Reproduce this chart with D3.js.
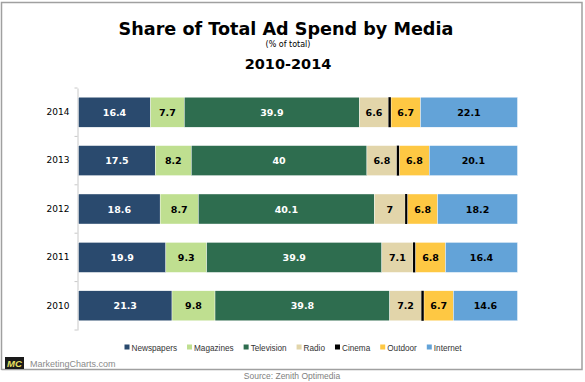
<!DOCTYPE html>
<html><head><meta charset="utf-8">
<script src="https://cdn.jsdelivr.net/npm/d3@7"></script>
<style>body{margin:0;background:#fff}svg{display:block}</style>
</head><body>
<svg id="c" width="585" height="382"></svg>
<script>
const years = ["2014","2013","2012","2011","2010"];
const media = ["Newspapers","Magazines","Television","Radio","Cinema","Outdoor","Internet"];
const newspapers = [16.4,17.5,18.6,19.9,21.3];
const magazines  = [7.7,8.2,8.7,9.3,9.8];
const television = [39.9,40,40.1,39.9,39.8];
const radio      = [6.6,6.8,7,7.1,7.2];
const cinema     = [0.6,0.6,0.6,0.6,0.6];
const outdoor    = [6.7,6.8,6.8,6.8,6.7];
const internet   = [22.1,20.1,18.2,16.4,14.6];
const colors = ["#2a4a6e","#bfdf90","#2e6d4f","#e2d5aa","#000000","#fec843","#63a3d8"];
const labelColors = ["#fff","#000","#fff","#000",null,"#000","#000"];
const seriesValues = [newspapers,magazines,television,radio,cinema,outdoor,internet];

const svg = d3.select("#c");
// frame
svg.append("path").attr("d","M1.5,370 L1.5,2.5 L582,2.5 L582,369.5 L1.5,369.5")
  .attr("fill","none").attr("stroke","#a0a0a0").attr("stroke-width",1.5);

// titles
svg.append("text").attr("x",286).attr("y",35).attr("text-anchor","middle")
  .attr("font-family","DejaVu Sans").attr("font-weight","bold").attr("font-size",17.6)
  .attr("fill","#000").text("Share of Total Ad Spend by Media");
svg.append("text").attr("x",288).attr("y",47).attr("text-anchor","middle")
  .attr("font-family","DejaVu Sans").attr("font-size",8).attr("fill","#000").text("(% of total)");
svg.append("text").attr("x",288).attr("y",69).attr("text-anchor","middle")
  .attr("font-family","DejaVu Sans").attr("font-weight","bold").attr("font-size",14.5)
  .attr("fill","#000").text("2010-2014");

const x = d3.scaleLinear().domain([0,100]).range([78.5,517.5]);
const y = d3.scaleBand().domain(years).range([88,330]).paddingInner(0.38).paddingOuter(0.19);

// axis
const yAxis = d3.axisLeft(y).tickSize(0).tickPadding(8);
const ag = svg.append("g").attr("transform","translate(77.5,0)").call(yAxis);
ag.select(".domain").attr("stroke","#c8c8c8");
ag.selectAll("text").attr("font-family","DejaVu Sans").attr("font-size",9).attr("fill","#000");
// category boundary ticks
const step = (330-88)/years.length;
svg.append("g").selectAll("line").data(d3.range(years.length+1)).join("line")
  .attr("x1",74.5).attr("x2",77.5)
  .attr("y1",i=>88+i*step).attr("y2",i=>88+i*step)
  .attr("stroke","#c8c8c8");

// stacked data
const rows = years.map((yr,i)=>{ const o={year:yr}; media.forEach((m,j)=>o[m]=seriesValues[j][i]); return o; });
const stack = d3.stack().keys(media)(rows);
const g = svg.append("g");
stack.forEach((layer,j)=>{
  g.append("g").selectAll("rect").data(layer).join("rect")
    .attr("x",d=>x(d[0])).attr("width",d=>x(d[1])-x(d[0]))
    .attr("y",d=>y(d.data.year)).attr("height",y.bandwidth())
    .attr("fill",colors[j]).attr("stroke", j===4?"none":"#fff").attr("stroke-width",0.4);
  if(labelColors[j]){
    g.append("g").selectAll("text").data(layer).join("text")
      .attr("x",d=>(x(d[0])+x(d[1]))/2).attr("y",d=>y(d.data.year)+y.bandwidth()/2+3.5)
      .attr("text-anchor","middle").attr("font-family","DejaVu Sans").attr("font-weight","bold")
      .attr("font-size",9.5).attr("fill",labelColors[j])
      .text(d=>d.data[media[j]]);
  }
});

// legend
const lg = svg.append("g");
let lx = 124.5;
media.forEach((m,j)=>{
  lg.append("rect").attr("x",lx).attr("y",344.5).attr("width",5).attr("height",5).attr("fill",colors[j]);
  const t = lg.append("text").attr("x",lx+7).attr("y",350.5).attr("font-family","Liberation Sans")
    .attr("font-size",8.2).attr("fill","#333").text(m);
  lx += 7 + t.node().getComputedTextLength() + 10;
});

// footer
svg.append("rect").attr("x",5).attr("y",357).attr("width",19).attr("height",12).attr("fill","#1a1a1a");
svg.append("text").attr("x",14.5).attr("y",366.5).attr("text-anchor","middle").attr("font-family","Liberation Sans")
  .attr("font-weight","bold").attr("font-style","italic").attr("font-size",9.5).attr("fill","#e8e060").text("MC");
svg.append("text").attr("x",30).attr("y",367).attr("font-family","Liberation Sans")
  .attr("font-size",9).attr("fill","#8a8a8a").text("MarketingCharts.com");
svg.append("text").attr("x",292).attr("y",379).attr("text-anchor","middle").attr("font-family","Liberation Sans")
  .attr("font-size",8.5).attr("fill","#808080").text("Source: Zenith Optimedia");
</script>
</body></html>
